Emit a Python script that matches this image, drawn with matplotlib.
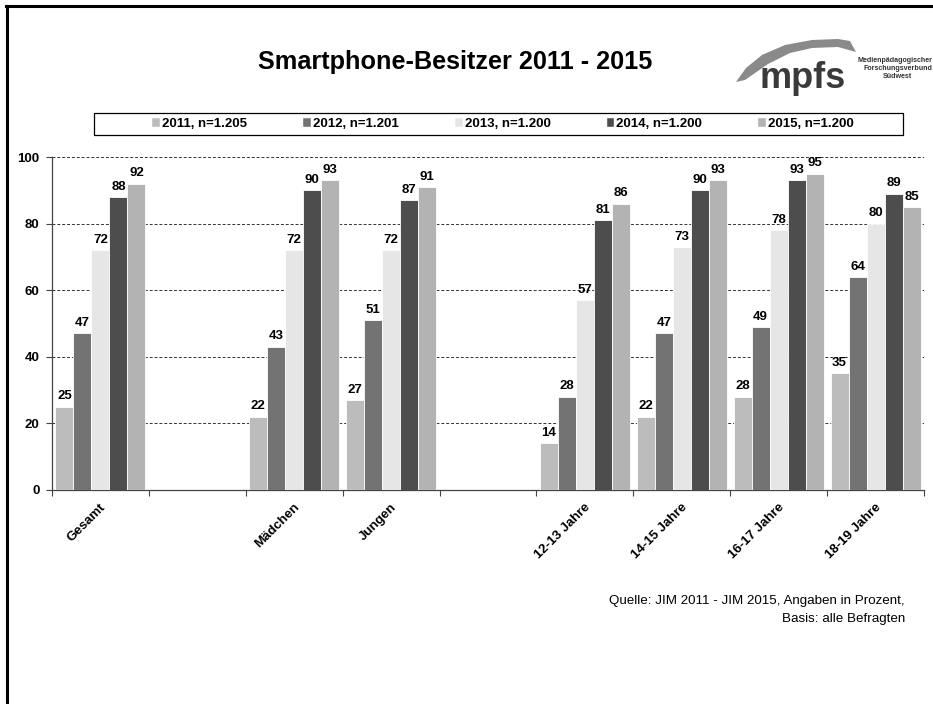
import matplotlib
matplotlib.use("Agg")
import matplotlib.pyplot as plt
import numpy as np
import matplotlib.transforms as mtransforms
from matplotlib.lines import Line2D
from matplotlib.patches import Polygon, Patch

plt.rcParams['font.family'] = ['Liberation Sans', 'DejaVu Sans']

categories = ["Gesamt", "", "Mädchen", "Jungen", "", "12-13 Jahre", "14-15 Jahre", "16-17 Jahre", "18-19 Jahre"]
series_labels = ["2011, n=1.205", "2012, n=1.201", "2013, n=1.200", "2014, n=1.200", "2015, n=1.200"]
v2011 = [25, None, 22, 27, None, 14, 22, 28, 35]
v2012 = [47, None, 43, 51, None, 28, 47, 49, 64]
v2013 = [72, None, 72, 72, None, 57, 73, 78, 80]
v2014 = [88, None, 90, 87, None, 81, 90, 93, 89]
v2015 = [92, None, 93, 91, None, 86, 93, 95, 85]
series_values = [v2011, v2012, v2013, v2014, v2015]
colors = ["#bcbcbc", "#737373", "#e6e6e6", "#4d4d4d", "#b3b3b3"]
yticks = [0, 20, 40, 60, 80, 100]

W, H = 933, 704
fig = plt.figure(figsize=(W / 100, H / 100), dpi=100)
fig.patch.set_facecolor("white")

def fx(px):
    return px / W

def fy(py):
    return 1 - py / H

FS = 9.5

ax = fig.add_axes([fx(52), fy(490), fx(924) - fx(52), fy(157) - fy(490)])

x = np.arange(len(categories))
bw = 0.186
for i, (vals, col) in enumerate(zip(series_values, colors)):
    xs = [xi + (i - 2) * bw for xi, v in zip(x, vals) if v is not None]
    hs = [v for v in vals if v is not None]
    ax.bar(xs, hs, width=bw, color=col, edgecolor="white", linewidth=0.6, zorder=3)
    for xx, hh in zip(xs, hs):
        ax.text(xx, hh + 1.3, str(hh), ha="center", va="bottom", fontsize=FS,
                fontweight="bold", zorder=4)

ax.set_xlim(-0.5, len(categories) - 0.5)
ax.set_ylim(0, 100)
ax.set_yticks(yticks)
ax.set_yticklabels([str(t) for t in yticks], fontsize=FS, fontweight="bold")
ax.yaxis.grid(True, linestyle=(0, (3, 2)), color="#333333", linewidth=0.7, zorder=0)
ax.set_axisbelow(True)

ax.set_xticks(np.arange(-0.5, len(categories), 1.0))
ax.set_xticklabels([])
ax.set_xticks(x, minor=True)
ax.set_xticklabels(categories, minor=True, rotation=45, ha="right",
                   rotation_mode="anchor", fontsize=FS, fontweight="bold")
ax.tick_params(axis="x", which="minor", length=0, pad=8)
ax.tick_params(axis="x", which="major", length=4, direction="out", color="#444444")
ax.tick_params(axis="y", length=4, direction="out", color="#444444", pad=5)
offset = mtransforms.ScaledTranslation(-0.01, 0, fig.dpi_scale_trans)
for lab in ax.get_xticklabels(minor=True):
    lab.set_transform(lab.get_transform() + offset)

for s in ["top", "right"]:
    ax.spines[s].set_visible(False)
for s in ["left", "bottom"]:
    ax.spines[s].set_color("#444444")
    ax.spines[s].set_linewidth(0.9)

# Legend
handles = [Patch(facecolor=c, edgecolor="white", linewidth=0.3) for c in colors]
leg = fig.legend(handles, series_labels, loc="center",
                 bbox_to_anchor=(fx(503), fy(124)),
                 ncol=5, frameon=False,
                 handlelength=0.6, handleheight=0.6, handletextpad=0.15,
                 columnspacing=4.25, borderaxespad=0,
                 prop={"weight": "bold", "size": FS})
frame = plt.Rectangle((fx(94), fy(135)), fx(903) - fx(94), fy(113) - fy(135),
                      transform=fig.transFigure, fill=False, edgecolor="black",
                      linewidth=0.9)
fig.patches.append(frame)

# Title
fig.text(fx(455), fy(62), "Smartphone-Besitzer 2011 - 2015", ha="center", va="center",
         fontsize=18.2, fontweight="bold")

# Logo
swoosh = [(736, 82), (746, 68), (762, 55), (785, 45), (812, 40), (838, 39), (850, 41),
          (856, 52), (838, 47), (812, 48), (790, 53), (768, 64), (745, 80)]
fig.patches.append(Polygon([(fx(a), fy(b)) for a, b in swoosh], closed=True,
                           transform=fig.transFigure, facecolor="#8a8a8a",
                           edgecolor="none"))
fig.text(fx(803), fy(79), "mpfs", ha="center", va="center", fontsize=26,
         fontweight="bold", color="#3a3a3a")
fig.text(fx(895), fy(60), "Medienpädagogischer", ha="center", va="center",
         fontsize=5.1, fontweight="bold", color="#333333")
fig.text(fx(898), fy(68), "Forschungsverbund", ha="center", va="center",
         fontsize=5.1, fontweight="bold", color="#333333")
fig.text(fx(897), fy(76), "Südwest", ha="center", va="center",
         fontsize=5.1, fontweight="bold", color="#333333")

# Source
fig.text(fx(905), fy(601), "Quelle: JIM 2011 - JIM 2015, Angaben in Prozent,",
         ha="right", va="center", fontsize=9.6)
fig.text(fx(905), fy(619), "Basis: alle Befragten", ha="right", va="center", fontsize=9.6)

# Border (left and top)
fig.lines.append(Line2D([fx(7), fx(7)], [0, fy(6)], transform=fig.transFigure,
                        color="black", linewidth=2.2))
fig.lines.append(Line2D([fx(6), 1], [fy(6), fy(6)], transform=fig.transFigure,
                        color="black", linewidth=2.2))

fig.savefig("out.png", dpi=100, facecolor="white")
